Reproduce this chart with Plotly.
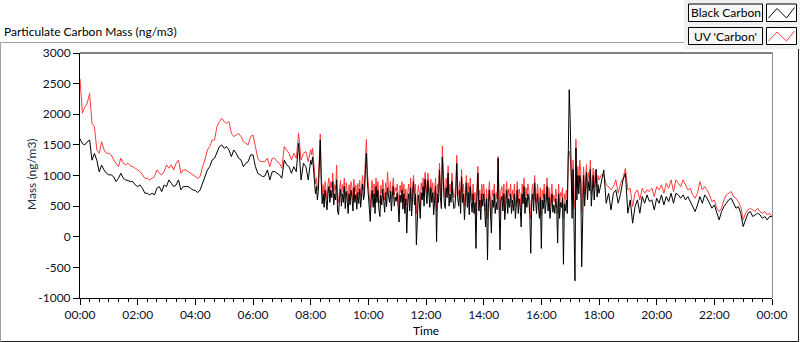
import plotly.graph_objects as go
import pandas as pd

# ---------------- data ----------------
# 00:00 - 07:55, 5-minute samples
bc_night = [
    1600, 1520, 1500, 1550, 1580, 1250, 1360, 1250, 1060, 1170, 1090, 1036,
    1010, 1010, 980, 900, 955, 1036, 955, 928, 917, 900, 900, 846,
    819, 846, 792, 710, 710, 683, 710, 683, 792, 819, 737, 846,
    819, 928, 873, 819, 846, 928, 764, 819, 819, 819, 792, 764,
    754, 721, 764, 873, 1010, 1090, 1145, 1254, 1281, 1390, 1472, 1500,
    1444, 1472, 1417, 1308, 1417, 1363, 1281, 1254, 1145, 1200, 1227, 1336,
    1336, 1145, 1036, 1010, 982, 993, 1091, 928, 1064, 1064, 1036, 1010,
    955, 1254, 1173, 1145, 1036, 1145, 1064, 1526, 928, 1200, 1145, 928,
]
uv_night = [
    2576, 2016, 2120, 2180, 2340, 1852, 1798, 1417, 1363, 1553, 1417, 1363,
    1363, 1336, 1254, 1200, 1145, 1281, 1200, 1173, 1200, 1156, 1145, 1118,
    1091, 1064, 1010, 955, 955, 928, 955, 982, 1091, 1036, 1010, 1064,
    1173, 1118, 1173, 1091, 1200, 1254, 1036, 1091, 1091, 1064, 1036, 1010,
    982, 955, 982, 1145, 1254, 1417, 1472, 1580, 1580, 1798, 1880, 1934,
    1880, 1852, 1880, 1689, 1635, 1662, 1689, 1635, 1553, 1526, 1500, 1635,
    1662, 1472, 1281, 1227, 1227, 1227, 1281, 1145, 1281, 1281, 1227, 1200,
    1118, 1472, 1417, 1363, 1254, 1363, 1281, 1689, 1254, 1363, 1390, 1227,
]
# 08:00 - 17:58, 2-minute samples
bc_day = [
    1250, 1180, 1300, 1100, 900, 700, 820, 600, 760, 1100, 1580, 900, 540, 700, 480, 760, 620, 440, 700, 820, 560, 760, 640, 900, 520, 700, 600, 930, 420, 360,
    620, 780, 500, 700, 560, 820, 460, 740, 600, 380, 700, 520, 760, 640, 420, 800, 560, 690, 450, 720, 540, 780, 480, 660, 860, 600, 700, 1100, 1360, 900,
    700, 420, 250, 620, 760, 480, 700, 380, 820, 560, 760, 450, 330, 680, 520, 780, 600, 400, 720, 490, 800, 620, 560, 740, 420, 680, 820, 500, 650, 580,
    720, 500, 240, 680, 560, 760, 450, 700, 380, 620, 60, 560, 700, 420, 800, 340, 620, 900, 520, 700, -130, 480, 680, 560, 300, 720, 600, 820, 500, 940,
    700, 540, 920, 640, 480, 800, 560, 720, 360, 600, 820, -80, 700, 560, 1090, 640, 460, 1300, 700, 560, 460, 800, 640, 1040, 500, 700, 560, 900, 620, 460,
    480, 700, 1200, 620, 500, 760, 380, 980, 560, 700, 280, 600, 880, 480, 720, 360, 820, 560, 400, 700, 380, 560, -190, 640, 1040, 420, 600, 280, 700, 500,
    700, 480, 160, 620, -380, 560, 760, 420, 60, 600, 480, 700, 380, 560, 440, 1280, 300, -215, 600, 660, 420, 700, 280, 560, 760, 380, 620, 480, 700, 380,
    600, 420, 700, 300, 540, 760, 380, 620, 480, 160, 700, 540, 820, 380, 640, 480, 700, 600, 360, -270, 560, 700, 420, 880, 600, 380, 700, 520, 300, 640,
    -190, 600, 460, 700, 380, 560, 820, 420, 640, 300, 560, 700, 400, 520, 380, 620, 460, -100, 700, 300, 560, 480, 640, -450, 540, 420, 600, 380, 1300, 2400,
    1920, 900, 300, 1100, 400, -720, 1450, 600, 1000, 700, 1000, 900, -490, 700, 1000, 500, 850, 1050, 600, 900, 750, 1100, 500, 850, 1000, 600, 900, 1100, 650, 850,
]
uv_day = [
    1420, 1340, 1450, 1260, 1020, 860, 960, 760, 900, 1250, 1680, 1030, 700, 850, 640, 900, 780, 620, 860, 960, 720, 900, 800, 1040, 680, 850, 760, 1170, 600, 560,
    780, 920, 660, 850, 720, 960, 640, 880, 760, 580, 850, 680, 900, 800, 600, 940, 720, 840, 620, 870, 700, 920, 660, 820, 1000, 760, 860, 1300, 1590, 1060,
    860, 600, 480, 780, 920, 660, 860, 580, 960, 720, 900, 640, 540, 840, 700, 930, 760, 600, 880, 680, 1060, 780, 720, 900, 620, 840, 960, 680, 800, 740,
    860, 680, 480, 840, 720, 900, 640, 860, 580, 780, 520, 720, 860, 620, 960, 560, 780, 1000, 700, 860, 380, 660, 840, 720, 520, 880, 760, 960, 680, 1050,
    860, 720, 1040, 800, 660, 940, 720, 880, 560, 760, 960, 420, 860, 720, 1200, 800, 640, 1480, 860, 720, 640, 950, 800, 1160, 680, 860, 720, 1040, 780, 640,
    660, 860, 1330, 780, 680, 900, 580, 1100, 720, 860, 500, 760, 1000, 660, 880, 560, 960, 720, 600, 860, 580, 720, 350, 800, 1150, 600, 760, 480, 860, 680,
    860, 660, 420, 780, 300, 720, 900, 600, 380, 760, 660, 860, 560, 720, 620, 1310, 500, 350, 760, 820, 600, 860, 480, 720, 900, 560, 780, 660, 860, 560,
    760, 600, 860, 500, 700, 900, 560, 780, 660, 420, 860, 700, 960, 560, 800, 660, 860, 760, 560, 300, 720, 860, 600, 1000, 760, 560, 860, 700, 500, 800,
    350, 760, 640, 860, 560, 720, 960, 600, 800, 500, 720, 860, 580, 680, 560, 780, 640, 380, 860, 500, 720, 660, 800, 300, 700, 600, 760, 560, 1360, 1400,
    1300, 1050, 600, 1250, 650, 450, 1590, 800, 1150, 880, 1250, 1060, 400, 880, 1140, 700, 1000, 1180, 800, 1050, 920, 1250, 700, 1000, 1120, 800, 1060, 1100, 820, 1000,
]
# 18:00 - 24:00, 5-minute samples
bc_evening = [
    710, 928, 1091, 547, 710, 438, 710, 765, 547, 710, 928, 1037,
    384, 602, 221, 493, 602, 384, 656, 547, 683, 574, 602, 438,
    629, 547, 683, 520, 656, 574, 710, 547, 710, 683, 629, 683,
    602, 656, 574, 493, 411, 520, 656, 547, 683, 629, 547, 466,
    520, 384, 275, 411, 493, 547, 602, 629, 547, 466, 493, 384,
    166, 275, 384, 411, 330, 357, 384, 357, 302, 330, 275, 330,
    330,
]
uv_evening = [
    928, 1010, 1010, 846, 819, 765, 819, 928, 710, 874, 955, 1118,
    765, 792, 493, 710, 765, 602, 792, 710, 765, 738, 792, 656,
    819, 765, 846, 710, 874, 792, 928, 738, 928, 874, 819, 928,
    846, 765, 792, 683, 629, 710, 901, 765, 819, 765, 683, 574,
    602, 466, 411, 466, 602, 683, 710, 738, 656, 629, 574, 493,
    275, 384, 438, 466, 438, 411, 466, 411, 384, 411, 357, 384,
    330,
]

series_names = ["Black Carbon", "UV 'Carbon'"]
chart_title = "Particulate Carbon Mass (ng/m3)"
y_title = "Mass (ng/m3)"
x_title = "Time"
y_ticks = [-1000, -500, 0, 500, 1000, 1500, 2000, 2500, 3000]

black_carbon = bc_night + bc_day + bc_evening
uv_carbon = uv_night + uv_day + uv_evening

t_night = pd.date_range("2024-01-01 00:00", periods=len(bc_night), freq="5min")
t_day = pd.date_range("2024-01-01 08:00", periods=len(bc_day), freq="2min")
t_evening = pd.date_range("2024-01-01 18:00", periods=len(bc_evening), freq="5min")
times = list(t_night) + list(t_day) + list(t_evening)

# ---------------- layout geometry ----------------
W, H = 800, 342
L, R, T, B = 80, 28, 53, 44
PW = W - L - R
PH = H - T - B


def px(x):
    return (x - L) / PW


def py(y):
    return (H - B - y) / PH


FONT = "Segoe UI, Lato, Noto Sans, sans-serif"
RED = "#ff3b3b"

fig = go.Figure()
fig.add_trace(go.Scatter(x=times, y=uv_carbon, mode="lines", name=series_names[1],
                         line=dict(color=RED, width=1)))
fig.add_trace(go.Scatter(x=times, y=black_carbon, mode="lines", name=series_names[0],
                         line=dict(color="#000000", width=1)))

shapes = []
# outer frame
shapes.append(dict(type="line", xref="paper", yref="paper", x0=px(0.5), x1=px(684), y0=py(42.5), y1=py(42.5),
                   line=dict(color="#a0a0a0", width=1)))
shapes.append(dict(type="line", xref="paper", yref="paper", x0=px(0.5), x1=px(0.5), y0=py(42.5), y1=py(341.5),
                   line=dict(color="#a0a0a0", width=1)))
shapes.append(dict(type="line", xref="paper", yref="paper", x0=px(0.5), x1=px(798.5), y0=py(341.5), y1=py(341.5),
                   line=dict(color="#202020", width=1)))
shapes.append(dict(type="line", xref="paper", yref="paper", x0=px(798.5), x1=px(798.5), y0=py(49), y1=py(341.5),
                   line=dict(color="#202020", width=1)))
# legend panel
shapes.append(dict(type="rect", xref="paper", yref="paper", x0=px(684), x1=px(800), y0=py(0), y1=py(49),
                   fillcolor="#f0f0f0", line=dict(width=0), layer="below"))
# plot border: top black, right gray
shapes.append(dict(type="line", xref="paper", yref="paper", x0=0, x1=px(772.5), y0=1, y1=1,
                   line=dict(color="#000000", width=1)))
shapes.append(dict(type="line", xref="paper", yref="paper", x0=px(772.5), x1=px(772.5), y0=0, y1=1,
                   line=dict(color="#8a8a8a", width=1)))

# legend boxes
rows = [(4, 21.5, "#000000", series_names[0]), (27.5, 44.5, RED, series_names[1])]
annotations = []
for (y0, y1, col, name) in rows:
    shapes.append(dict(type="rect", xref="paper", yref="paper", x0=px(688.5), x1=px(762.5),
                       y0=py(y1), y1=py(y0), fillcolor="#f7f7f7", line=dict(color="#000000", width=1)))
    shapes.append(dict(type="rect", xref="paper", yref="paper", x0=px(766.5), x1=px(796.5),
                       y0=py(y1), y1=py(y0), fillcolor="#ffffff", line=dict(color="#000000", width=1)))
    pts = [(768.5, y1 - 3.5), (777, y0 + 4.5), (786.5, y1 - 3.5), (794.5, y0 + 3.5)]
    path = "M " + " L ".join(f"{px(a):.5f},{py(b):.5f}" for a, b in pts)
    shapes.append(dict(type="path", xref="paper", yref="paper", path=path,
                       line=dict(color=col, width=1)))
    annotations.append(dict(xref="paper", yref="paper", x=px(725.5), y=py((y0 + y1) / 2),
                            text=name, showarrow=False, xanchor="center", yanchor="middle",
                            font=dict(family=FONT, size=12, color="#000000")))

# axis titles
annotations.append(dict(xref="paper", yref="paper", x=px(426), y=py(330), text=x_title, showarrow=False,
                        xanchor="center", yanchor="middle", font=dict(family=FONT, size=12, color="#000000")))
annotations.append(dict(xref="paper", yref="paper", x=px(31), y=py(174), text=y_title, showarrow=False,
                        textangle=-90, xanchor="center", yanchor="middle",
                        font=dict(family=FONT, size=12, color="#1c2e4a")))

fig.update_layout(
    width=W, height=H,
    margin=dict(l=L, r=R, t=T, b=B, pad=0),
    paper_bgcolor="#ffffff", plot_bgcolor="#ffffff",
    showlegend=False,
    font=dict(family=FONT, size=12, color="#10102a"),
    title=dict(text=chart_title, xref="container", yref="container", x=0.005, xanchor="left",
               y=1 - 32 / H, yanchor="middle", font=dict(family=FONT, size=12, color="#000000")),
    shapes=shapes,
    annotations=annotations,
)

fig.update_xaxes(
    type="date",
    range=[times[0], times[-1]],
    tickformat="%H:%M",
    dtick=2 * 3600 * 1000,
    tick0=times[0],
    automargin=False,
    showgrid=False, zeroline=False,
    showline=True, linecolor="#000000", linewidth=1,
    ticks="outside", ticklen=6, tickcolor="#000000", tickwidth=1,
    minor=dict(dtick=20 * 60 * 1000, ticks="outside", ticklen=3, tickcolor="#000000", showgrid=False),
    tickfont=dict(family=FONT, size=12, color="#10102a"),
)

fig.update_yaxes(
    range=[-1000, 3000],
    tickvals=y_ticks,
    ticktext=[str(v) for v in y_ticks],
    automargin=False,
    showgrid=False, zeroline=False,
    showline=True, linecolor="#000000", linewidth=1,
    ticks="outside", ticklen=6, tickcolor="#000000", tickwidth=1,
    tickfont=dict(family=FONT, size=12, color="#10102a"),
)

fig.write_html("out.html", config={"displayModeBar": False},
               post_script="document.body.style.margin='0px';")
